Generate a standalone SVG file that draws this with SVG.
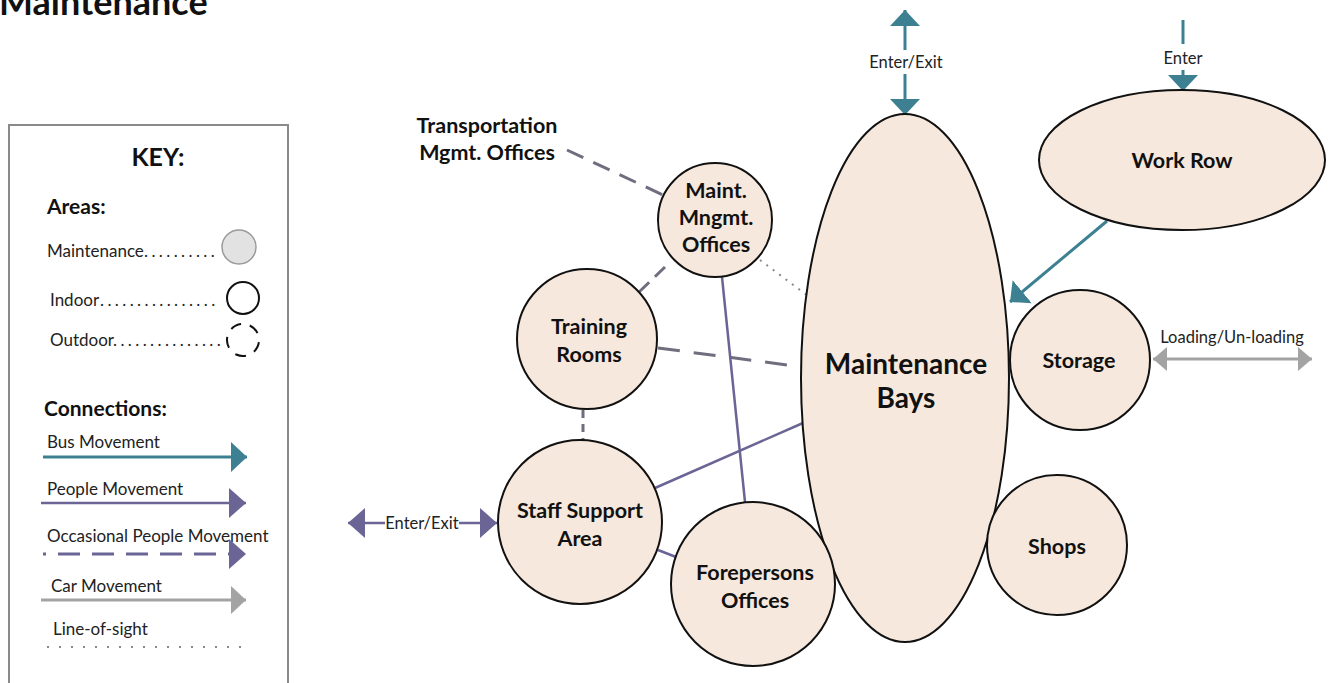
<svg xmlns="http://www.w3.org/2000/svg" width="1330" height="683" viewBox="0 0 1330 683">
  <defs>
    <style>
      text { font-family: Lato, "Open Sans", "Liberation Sans", sans-serif; fill: #111; }
      .title { font-size: 36px; font-weight: bold; }
      .hd { font-size: 21px; font-weight: bold; }
      .keyhd { font-size: 25px; font-weight: bold; text-anchor: middle; }
      .lbl { font-size: 21.5px; font-weight: bold; text-anchor: middle; }
      .big { font-size: 28px; font-weight: bold; text-anchor: middle; }
      .sm { font-size: 16.5px; fill: #222; text-anchor: middle; }
      .leg { font-size: 17px; fill: #222; }
      .dots { font-size: 17px; fill: #222; letter-spacing: 3.4px; }
      .area { fill: #f6e8dc; stroke: #111; stroke-width: 2; }
      .bus { stroke: #3d8091; stroke-width: 3; fill: none; }
      .ppl { stroke: #6a6595; stroke-width: 2.5; fill: none; }
      .occ { stroke: #6f6e7e; stroke-width: 3; fill: none; }
      .car { stroke: #a3a3a3; stroke-width: 3; fill: none; }
      .los { stroke: #8a8a8a; stroke-width: 2; fill: none; }
    </style>
    <marker id="mBus" viewBox="0 0 10 10" refX="10" refY="5" markerWidth="16" markerHeight="30" markerUnits="userSpaceOnUse" orient="auto-start-reverse" preserveAspectRatio="none">
      <path d="M0,0 L10,5 L0,10 Z" fill="#3d8091"/>
    </marker>
    <marker id="mPpl" viewBox="0 0 10 10" refX="10" refY="5" markerWidth="17" markerHeight="30" markerUnits="userSpaceOnUse" orient="auto-start-reverse" preserveAspectRatio="none">
      <path d="M0,0 L10,5 L0,10 Z" fill="#6a6595"/>
    </marker>
    <marker id="mCar" viewBox="0 0 10 10" refX="10" refY="5" markerWidth="15" markerHeight="28" markerUnits="userSpaceOnUse" orient="auto-start-reverse" preserveAspectRatio="none">
      <path d="M0,0 L10,5 L0,10 Z" fill="#a3a3a3"/>
    </marker>
    <marker id="mCarS" viewBox="0 0 10 10" refX="10" refY="5" markerWidth="14" markerHeight="24" markerUnits="userSpaceOnUse" orient="auto-start-reverse" preserveAspectRatio="none">
      <path d="M0,0 L10,5 L0,10 Z" fill="#a3a3a3"/>
    </marker>
  </defs>

  <rect width="1330" height="683" fill="#ffffff"/>

  <!-- Title, running off the top edge -->
  <text x="-1" y="15" class="title">Maintenance</text>

  <!-- Key -->
  <g id="key">
    <rect x="9" y="125" width="279" height="570" fill="#fff" stroke="#8a8a8a" stroke-width="2"/>
    <text x="158" y="166" class="keyhd">KEY:</text>
    <text x="47" y="214" class="hd">Areas:</text>

    <text x="47" y="257" class="leg">Maintenance</text>
    <text x="144" y="257" class="dots">..........</text>
    <circle cx="239" cy="247" r="17" fill="#e2e2e2" stroke="#9a9a9a" stroke-width="1.5"/>

    <text x="50" y="306" class="leg">Indoor</text>
    <text x="100" y="306" class="dots">................</text>
    <circle cx="243" cy="298" r="16" fill="none" stroke="#111" stroke-width="2"/>

    <text x="50" y="346" class="leg">Outdoor</text>
    <text x="113" y="346" class="dots">...............</text>
    <circle cx="243" cy="340" r="16" fill="none" stroke="#111" stroke-width="2" style="stroke-dasharray: 11 9" transform="rotate(-65 243 340)"/>

    <text x="44" y="416" class="hd">Connections:</text>
    <text x="47" y="448" class="leg">Bus Movement</text>
    <line x1="43" y1="457" x2="247" y2="457" class="bus" marker-end="url(#mBus)"/>
    <text x="47" y="495" class="leg">People Movement</text>
    <line x1="41" y1="503" x2="246" y2="503" class="ppl" marker-end="url(#mPpl)"/>
    <text x="47" y="542" class="leg">Occasional People Movement</text>
    <line x1="43" y1="554" x2="230" y2="554" class="occ" style="stroke: #6a6595; stroke-dasharray: 3 12 22 12 22 12 22 12 22 12 22 12 22 12"/>
    <path d="M229,539 L246,554 L229,569 Z" fill="#6a6595"/>
    <text x="51" y="592" class="leg">Car Movement</text>
    <line x1="41" y1="600" x2="246" y2="600" class="car" marker-end="url(#mCar)"/>
    <text x="53" y="635" class="leg">Line-of-sight</text>
    <line x1="47" y1="647" x2="248" y2="647" class="los" style="stroke-dasharray: 2 10"/>
  </g>

  <!-- Connectors -->
  <g id="connectors">
    <!-- Bays vehicle entry/exit -->
    <line x1="905" y1="50" x2="905" y2="10" class="bus" marker-end="url(#mBus)"/>
    <line x1="905" y1="74" x2="905" y2="115" class="bus" marker-end="url(#mBus)"/>
    <!-- Work Row entry -->
    <line x1="1183" y1="20" x2="1183" y2="44" class="bus"/>
    <line x1="1183" y1="70" x2="1183" y2="91" class="bus" marker-end="url(#mBus)"/>
    <!-- Work Row to Bays -->
    <line x1="1107" y1="221" x2="1010" y2="302" class="bus" marker-end="url(#mBus)"/>
    <!-- Storage loading -->
    <line x1="1153" y1="359" x2="1312" y2="359" class="car" marker-start="url(#mCarS)" marker-end="url(#mCarS)"/>
    <!-- Occasional people movement -->
    <line x1="567" y1="150" x2="663" y2="195" class="occ" style="stroke-dasharray: 18 11"/>
    <line x1="665" y1="267" x2="638" y2="293" class="occ" style="stroke-dasharray: 14 8"/>
    <line x1="658" y1="348" x2="803" y2="367" class="occ" style="stroke-dasharray: 22 14"/>
    <line x1="583" y1="410" x2="583" y2="441" class="occ" style="stroke-dasharray: 8 6"/>
    <!-- Line of sight -->
    <line x1="760" y1="260" x2="808" y2="296" class="los" style="stroke-dasharray: 2 6"/>
    <!-- People movement -->
    <line x1="722" y1="277" x2="745" y2="502" class="ppl"/>
    <line x1="655" y1="488" x2="803" y2="423" class="ppl"/>
    <line x1="658" y1="550" x2="676" y2="557" class="ppl"/>
    <line x1="385" y1="523" x2="348" y2="523" class="ppl" marker-end="url(#mPpl)"/>
    <line x1="459" y1="523" x2="497" y2="523" class="ppl" marker-end="url(#mPpl)"/>
  </g>

  <!-- Connector labels -->
  <g id="connector-labels">
    <text x="906" y="68" class="sm">Enter/Exit</text>
    <text x="1183" y="64" class="sm">Enter</text>
    <text x="1232" y="343" class="sm">Loading/Un-loading</text>
    <text x="422" y="529" class="sm">Enter/Exit</text>
  </g>

  <g id="transportation-mgmt">
    <text x="487" y="133" class="lbl">Transportation</text>
    <text x="487" y="160" class="lbl">Mgmt. Offices</text>
  </g>

  <g id="maintenance-bays">
    <ellipse cx="905" cy="378" rx="104" ry="264" class="area"/>
    <text x="906" y="374" class="big">Maintenance</text>
    <text x="906" y="408" class="big">Bays</text>
  </g>

  <g id="work-row">
    <ellipse cx="1182" cy="160" rx="143" ry="70" class="area"/>
    <text x="1182" y="168" class="lbl">Work Row</text>
  </g>

  <g id="storage">
    <circle cx="1080" cy="360" r="70" class="area"/>
    <text x="1079" y="368" class="lbl">Storage</text>
  </g>

  <g id="shops">
    <circle cx="1057" cy="545" r="70" class="area"/>
    <text x="1057" y="554" class="lbl">Shops</text>
  </g>

  <g id="maint-mngmt-offices">
    <circle cx="715" cy="220" r="57" class="area"/>
    <text x="716" y="198" class="lbl">Maint.</text>
    <text x="716" y="225" class="lbl">Mngmt.</text>
    <text x="716" y="252" class="lbl">Offices</text>
  </g>

  <g id="training-rooms">
    <circle cx="587" cy="339" r="70" class="area"/>
    <text x="589" y="334" class="lbl">Training</text>
    <text x="589" y="362" class="lbl">Rooms</text>
  </g>

  <g id="staff-support">
    <circle cx="580" cy="522" r="82" class="area"/>
    <text x="580" y="518" class="lbl">Staff Support</text>
    <text x="580" y="546" class="lbl">Area</text>
  </g>

  <g id="forepersons">
    <circle cx="753" cy="584" r="82" class="area"/>
    <text x="755" y="580" class="lbl">Forepersons</text>
    <text x="755" y="608" class="lbl">Offices</text>
  </g>
</svg>
